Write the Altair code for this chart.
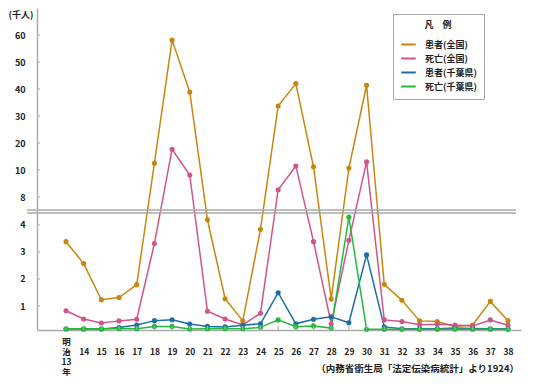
import altair as alt
import pandas as pd

years = list(range(13, 39))
series_names = ["患者(全国)", "死亡(全国)", "患者(千葉県)", "死亡(千葉県)"]
series_colors = ["#c8860f", "#d0558c", "#1c6ea4", "#22bb3c"]

patients_japan = [3.38, 2.57, 1.23, 1.31, 1.79, 12.5, 58.1, 38.9, 4.19, 1.27, 0.38, 3.84, 33.7,
                  42.0, 11.2, 1.26, 10.7, 41.4, 1.80, 1.21, 0.38, 0.35, 0.15, 0.21, 1.17, 0.39]
deaths_japan = [0.80, 0.46, 0.29, 0.38, 0.45, 3.31, 17.7, 9.63, 0.78, 0.46, 0.21, 0.70, 8.54,
                11.5, 3.38, 0.26, 3.43, 13.0, 0.42, 0.35, 0.22, 0.24, 0.21, 0.17, 0.42, 0.20]
patients_chiba = [0.04, 0.04, 0.04, 0.10, 0.21, 0.39, 0.43, 0.25, 0.15, 0.13, 0.20, 0.26, 1.49,
                  0.26, 0.45, 0.55, 0.30, 2.89, 0.13, 0.05, 0.05, 0.05, 0.08, 0.06, 0.05, 0.05]
deaths_chiba = [0.05, 0.05, 0.05, 0.05, 0.05, 0.15, 0.15, 0.04, 0.05, 0.05, 0.05, 0.11, 0.42,
                0.14, 0.17, 0.08, 4.29, 0.03, 0.03, 0.03, 0.03, 0.03, 0.03, 0.03, 0.03, 0.03]

y_ticks = [1, 2, 3, 4, 8, 10, 20, 30, 40, 50, 60]
break_values = [4.44, 7.04]
unit_label = "(千人)"
source_label = "（内務省衛生局「法定伝染病統計」より1924）"

rows = []
for name, vals in zip(series_names, [patients_japan, deaths_japan, patients_chiba, deaths_chiba]):
    for yr, v in zip(years, vals):
        rows.append({"year": yr, "value": v, "series": name, "order": series_names.index(name)})
df = pd.DataFrame(rows)

W, H = 484, 322
FONT = "Noto Sans CJK JP"

xscale = alt.Scale(domain=[11.36, 38.735], nice=False, zero=False)
yscale = alt.Scale(type="linear", domain=[0, 1, 4.44, 7.04, 10, 70],
                   range=[322, 298, 205, 202, 162, 0], nice=False, zero=False)

x_axis = alt.Axis(values=years, ticks=False, grid=False, domainColor="#aaaaaa",
                  domainWidth=1.5, labelFont=FONT, labelFontSize=8.5, labelFontWeight="bold",
                  labelColor="#222222", labelPadding=7, labelLineHeight=10,
                  labelBaseline="top",
                  labelExpr="datum.value == 13 ? ['明','治','13','年'] : ['','',datum.label,'']",
                  title=None)
y_axis = alt.Axis(values=y_ticks, ticks=False, grid=False, domainColor="#aaaaaa",
                  domainWidth=1.5, labelFont=FONT, labelFontSize=9, labelFontWeight="bold",
                  labelColor="#222222", labelPadding=12, title=unit_label, titleAngle=0,
                  titleAlign="left", titleBaseline="middle", titleX=-29, titleY=6,
                  titleFont=FONT, titleFontSize=9, titleFontWeight="bold", titleColor="#222222")

lines = alt.Chart(df).mark_line(
    strokeWidth=1.5,
    point=alt.OverlayMarkDef(filled=True, size=26, opacity=1),
).encode(
    x=alt.X("year:Q", scale=xscale, axis=x_axis),
    y=alt.Y("value:Q", scale=yscale, axis=y_axis),
    color=alt.Color("series:N", scale=alt.Scale(domain=series_names, range=series_colors),
                    legend=alt.Legend(title="凡　例", orient="none", legendX=356, legendY=6,
                                      symbolType="stroke", symbolSize=210, symbolStrokeWidth=2,
                                      padding=7, rowPadding=0, titlePadding=6, labelOffset=8,
                                      titleAnchor="middle", strokeColor="#aaaaaa",
                                      titleFont=FONT, titleFontSize=9, titleFontWeight="bold",
                                      labelFont=FONT, labelFontSize=9, labelFontWeight="bold",
                                      titleColor="#222222", labelColor="#222222")),
    order="order:Q",
    detail="series:N",
)

ytick_df = pd.DataFrame({"value": y_ticks})
yticks = alt.Chart(ytick_df).mark_rule(color="#aaaaaa", strokeWidth=1).encode(
    y=alt.Y("value:Q", scale=yscale, axis=y_axis),
    x=alt.value(0), x2=alt.value(3),
)

xtick_df = pd.DataFrame({"year": years})
xticks = alt.Chart(xtick_df).mark_rule(color="#aaaaaa", strokeWidth=1).encode(
    x=alt.X("year:Q", scale=xscale, axis=x_axis),
    y=alt.value(H), y2=alt.value(H - 4),
)

break_df = pd.DataFrame({"value": break_values})
breaks = alt.Chart(break_df).mark_rule(color="#aaaaaa", strokeWidth=1.3).encode(
    y=alt.Y("value:Q", scale=yscale, axis=y_axis),
    x=alt.value(-10), x2=alt.value(479),
)

src_df = pd.DataFrame({"t": [source_label]})
source = alt.Chart(src_df).mark_text(
    align="right", baseline="middle", font=FONT, fontSize=9.5, fontWeight="bold",
    color="#222222"
).encode(text="t:N", x=alt.value(482), y=alt.value(361))

chart = alt.layer(lines, yticks, xticks, breaks, source).properties(
    width=W, height=H,
    padding={"left": 29, "top": 0, "right": 7, "bottom": 46},
    autosize=alt.AutoSizeParams(type="none"),
).configure_view(stroke=None)

chart.save("out.html", embed_options={"renderer": "svg", "actions": False})
